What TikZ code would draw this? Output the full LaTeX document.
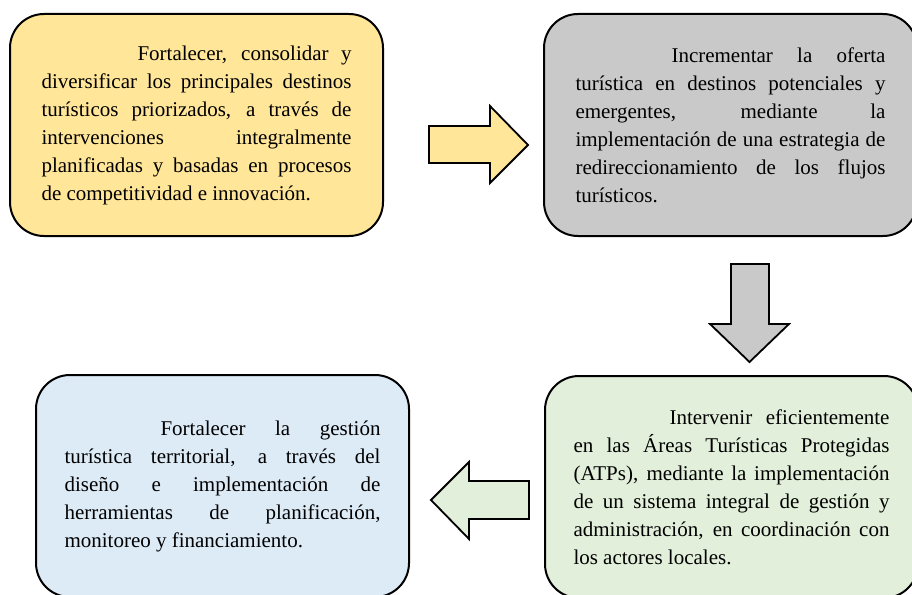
\documentclass[tikz,border=0pt]{standalone}
\usepackage{fontspec}
\setmainfont{Liberation Serif}
\usetikzlibrary{positioning}
\definecolor{goalyellow}{HTML}{FFE699}
\definecolor{goalgray}{HTML}{C9C9C9}
\definecolor{goalgreen}{HTML}{E2EFDA}
\definecolor{goalblue}{HTML}{DDEBF7}
\newcommand{\goalfont}{\fontsize{21}{28}\selectfont}
\newcommand{\firstind}{\hspace*{96pt}}
\pretolerance=-1
\tolerance=10000
\hbadness=10000
\hyphenpenalty=10000
\exhyphenpenalty=10000
\tikzset{
goal/.style 2 args={
  draw=black,
  line width=2pt,
  fill=#1,
  rounded corners=34pt,
  minimum width=373pt,
  minimum height=222pt,
  text width=#2,
  align=justify,
  inner sep=0pt,
  font=\goalfont
  }
}
\tikzset{
blockarrow/.style={
  draw=black,
  line width=1.8pt,
  line join=miter,
  fill=#1
  }
}

\begin{document}
\begin{tikzpicture}[x=1pt,y=-1pt]
\useasboundingbox (0,0) rectangle (912,594);
\clip (0,0) rectangle (912,594);

\node[goal={goalyellow}{310pt}] (consolidar) at (196.5,125)
{\firstind Fortalecer, consolidar y\linebreak
diversificar los principales destinos\linebreak
turísticos priorizados, a través de\linebreak
intervenciones integralmente\linebreak
planificadas y basadas en procesos\linebreak
de competitividad e innovación.};

\node[goal={goalgray}{310pt}, right=159pt of consolidar] (oferta)
{\firstind Incrementar la oferta\linebreak
turística en destinos potenciales y\linebreak
emergentes, mediante la\linebreak
implementación de una estrategia de\linebreak
redireccionamiento de los flujos\linebreak
turísticos.};

\node[goal={goalgreen}{316pt}, below=138pt of oferta, xshift=1pt] (atps)
{\firstind Intervenir eficientemente\linebreak
en las Áreas Turísticas Protegidas\linebreak
(ATPs), mediante la implementación\linebreak
de un sistema integral de gestión y\linebreak
administración, en coordinación con\linebreak
los actores locales.};

\node[goal={goalblue}{316pt}, left=134pt of atps, yshift=1pt] (gestion)
{\firstind Fortalecer la gestión\linebreak
turística territorial, a través del\linebreak
diseño e implementación de\linebreak
herramientas de planificación,\linebreak
monitoreo y financiamiento.};

% block arrows between the goals
\draw[blockarrow=goalyellow] (429,126) -- (490,126) -- (490,106) -- (528,145)
  -- (490,183) -- (490,163) -- (429,163) -- cycle;
\draw[blockarrow=goalgray] (731,264) -- (769,264) -- (769,324) -- (789,324)
  -- (749.5,362) -- (710,324) -- (731,324) -- cycle;
\draw[blockarrow=goalgreen] (529,481) -- (469,481) -- (469,462) -- (431,500)
  -- (469,539) -- (469,519) -- (529,519) -- cycle;
\end{tikzpicture}
\end{document}
